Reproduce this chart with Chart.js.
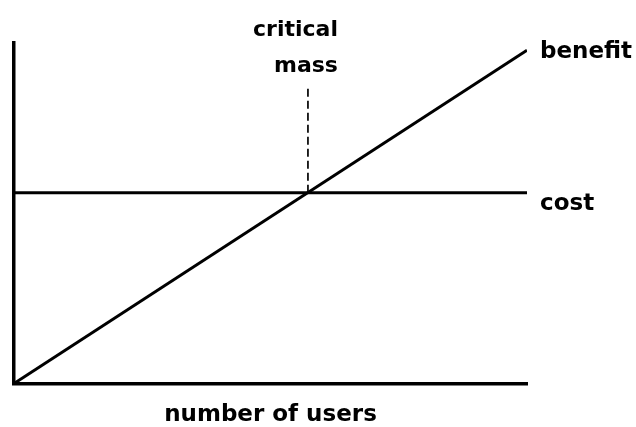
<!DOCTYPE html>
<html>
<head>
<meta charset="utf-8">
<script src="https://cdn.jsdelivr.net/npm/chart.js@4"></script>
<style>
  html, body { margin: 0; padding: 0; background: #fff; }
  #wrap { width: 636px; height: 427px; }
</style>
</head>
<body>
<div id="wrap"><canvas id="graph"></canvas></div>
<script>
// values (arbitrary 0-100 units)
var userAxis = [0, 100];
var benefitValues = [0, 97.9];
var costValues = [56, 56];
var criticalMassX = [57.3, 57.3];
var criticalMassY = [56, 87.1];

var seriesNames = ['benefit', 'cost'];
var criticalMassLabel = ['critical', 'mass'];
var xAxisTitle = 'number of users';

// labels next to line ends + critical mass note
var lineLabels = {
  id: 'lineLabels',
  afterDatasetsDraw: function(chart) {
    var ctx = chart.ctx;
    var xs = chart.scales.x, ys = chart.scales.y;
    ctx.save();
    ctx.fillStyle = '#000';
    ctx.font = 'bold 23px "DejaVu Sans"';
    ctx.textBaseline = 'alphabetic';
    ctx.textAlign = 'left';
    ctx.fillText(seriesNames[0], xs.getPixelForValue(userAxis[1]) + 13, ys.getPixelForValue(benefitValues[1]) + 8);
    ctx.fillText(seriesNames[1], xs.getPixelForValue(userAxis[1]) + 13, ys.getPixelForValue(costValues[1]) + 17);
    ctx.font = 'bold 22px "DejaVu Sans"';
    ctx.textAlign = 'right';
    var cx = xs.getPixelForValue(criticalMassX[1]) + 30;
    var top = ys.getPixelForValue(criticalMassY[1]);
    ctx.fillText(criticalMassLabel[0], cx, top - 51);
    ctx.fillText(criticalMassLabel[1], cx, top - 15);
    ctx.restore();
  }
};

var ctx = document.getElementById('graph').getContext('2d');
var myChart = new Chart(ctx, {
  type: 'line',
  data: {
    datasets: [
      { label: seriesNames[0],
        data: userAxis.map(function(x, i){ return {x: x, y: benefitValues[i]}; }),
        borderColor: '#000', borderWidth: 3, pointRadius: 0, fill: false },
      { label: seriesNames[1],
        data: userAxis.map(function(x, i){ return {x: x, y: costValues[i]}; }),
        borderColor: '#000', borderWidth: 3, pointRadius: 0, fill: false },
      { label: 'critical mass',
        data: criticalMassX.map(function(x, i){ return {x: x, y: criticalMassY[i]}; }),
        borderColor: '#000', borderWidth: 1.7, borderDash: [8, 4], pointRadius: 0, fill: false }
    ]
  },
  options: {
    responsive: true,
    maintainAspectRatio: false,
    animation: false,
    layout: { padding: { left: 14, right: 109, top: 43, bottom: 0 } },
    plugins: { legend: { display: false }, tooltip: { enabled: false } },
    scales: {
      x: {
        type: 'linear', min: 0, max: 100,
        grid: { display: false, drawTicks: false },
        ticks: { display: false },
        border: { display: true, color: '#000', width: 3.5 },
        title: { display: true, text: xAxisTitle, color: '#000',
                 font: { family: 'DejaVu Sans', size: 23, weight: 'bold', lineHeight: 1 },
                 padding: { top: 20.5, bottom: 0 } }
      },
      y: {
        min: 0, max: 100,
        grid: { display: false, drawTicks: false },
        ticks: { display: false },
        border: { display: true, color: '#000', width: 3.5 }
      }
    }
  },
  plugins: [lineLabels]
});
</script>
</body>
</html>
